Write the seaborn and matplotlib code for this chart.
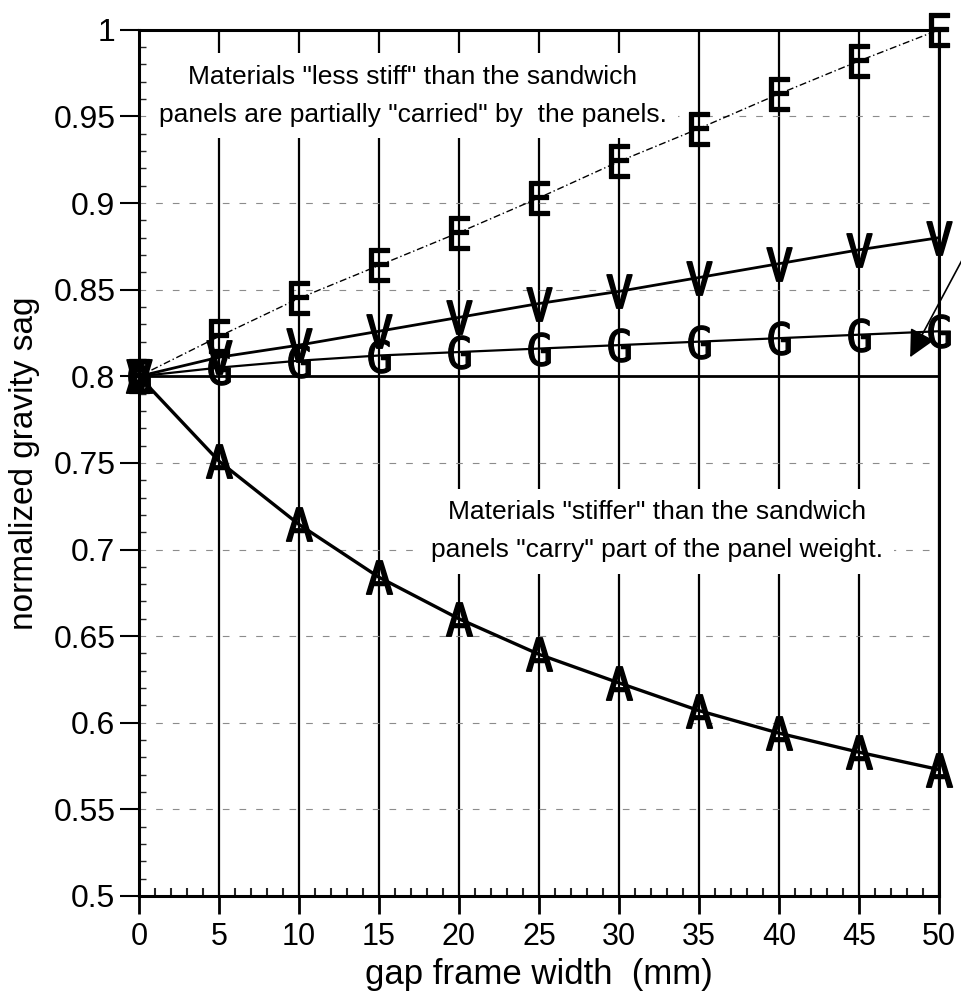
import matplotlib
matplotlib.use("Agg")
import matplotlib.pyplot as plt
from matplotlib.ticker import MultipleLocator, FixedLocator
import seaborn as sns

gap = [0, 5, 10, 15, 20, 25, 30, 35, 40, 45, 50]
sag_E = [0.80, 0.823, 0.845, 0.864, 0.883, 0.903, 0.924, 0.943, 0.963, 0.982, 1.0]
sag_V = [0.80, 0.811, 0.818, 0.826, 0.834, 0.842, 0.849, 0.857, 0.865, 0.873, 0.880]
sag_G = [0.80, 0.805, 0.809, 0.812, 0.814, 0.816, 0.818, 0.820, 0.822, 0.824, 0.826]
sag_flat = [0.80, 0.80, 0.80, 0.80, 0.80, 0.80, 0.80, 0.80, 0.80, 0.80, 0.80]
sag_A = [0.80, 0.751, 0.7145, 0.684, 0.660, 0.6395, 0.623, 0.607, 0.594, 0.583, 0.573]

yticks = [0.5, 0.55, 0.6, 0.65, 0.7, 0.75, 0.8, 0.85, 0.9, 0.95, 1.0]
ytick_labels = ["0.5", "0.55", "0.6", "0.65", "0.7", "0.75", "0.8", "0.85", "0.9", "0.95", "1"]

note_top = 'Materials "less stiff" than the sandwich\npanels are partially "carried" by  the panels.'
note_bottom = 'Materials "stiffer" than the sandwich\npanels "carry" part of the panel weight.'

sns.set_style("ticks")
plt.rcParams["font.family"] = ["Liberation Sans", "DejaVu Sans"]
plt.rcParams["text.color"] = "black"
plt.rcParams["axes.labelcolor"] = "black"

fig = plt.figure(figsize=(9.62, 9.94), dpi=100)
ax = fig.add_axes([0.1445, 0.0986, 0.8315, 0.8714])

ax.set_axisbelow(True)
ax.xaxis.grid(True, which="major", color="black", lw=1.6, ls="-")
ax.yaxis.grid(True, which="major", color="0.55", lw=0.8, ls=(0, (6, 9)))

mk = dict(markersize=24, mec="black", mfc="black", clip_on=False)
sns.lineplot(x=gap, y=sag_flat, ax=ax, color="black", lw=2.0)
sns.lineplot(x=gap, y=sag_E, ax=ax, color="black", lw=1.0, ls=(0, (5, 2, 1, 2)),
             marker=r"$\mathtt{E}$", mew=0.9, **mk)
sns.lineplot(x=gap, y=sag_V, ax=ax, color="black", lw=2.0,
             marker=r"$\mathtt{V}$", mew=1.1, **mk)
sns.lineplot(x=gap, y=sag_G, ax=ax, color="black", lw=1.6,
             marker=r"$\mathtt{G}$", mew=0.9, **mk)
sns.lineplot(x=gap, y=sag_A, ax=ax, color="black", lw=2.4,
             marker=r"$\mathtt{A}$", mew=1.1, **mk)

ax.set_xlim(0, 50)
ax.set_ylim(0.5, 1.0)
ax.xaxis.set_major_locator(FixedLocator(gap))
ax.xaxis.set_minor_locator(MultipleLocator(1))
ax.yaxis.set_major_locator(FixedLocator(yticks))
ax.set_yticklabels(ytick_labels)
ax.yaxis.set_minor_locator(MultipleLocator(0.01))

for sp in ax.spines.values():
    sp.set_visible(True)
    sp.set_linewidth(2.2)
    sp.set_color("black")

ax.tick_params(axis="x", which="major", direction="out", length=13, width=2, pad=6,
               labelsize=22, colors="black")
ax.tick_params(axis="x", which="minor", direction="in", length=6, width=1.5)
ax.tick_params(axis="y", which="major", direction="out", length=14, width=1.5, pad=3,
               labelsize=23, colors="black")
ax.tick_params(axis="y", which="minor", direction="in", length=5, width=1)

ax.set_xlabel("gap frame width  (mm)", fontsize=25, labelpad=4)
ax.set_ylabel("normalized gravity sag", fontsize=24, labelpad=10)

box = dict(facecolor="white", edgecolor="none", pad=8)
ax.text(17.1, 0.962, note_top, ha="center", va="center", fontsize=19,
        linespacing=1.75, bbox=box, zorder=1.5)
ax.text(32.4, 0.7105, note_bottom, ha="center", va="center", fontsize=19,
        linespacing=1.75, bbox=box, zorder=1.5)

ax.annotate("", xy=(48.2, 0.811), xytext=(51.5, 0.868), annotation_clip=False,
            arrowprops=dict(arrowstyle="-|>", mutation_scale=42, lw=1.2, color="black",
                            shrinkA=0, shrinkB=0))

fig.savefig("out.png", dpi=100)
